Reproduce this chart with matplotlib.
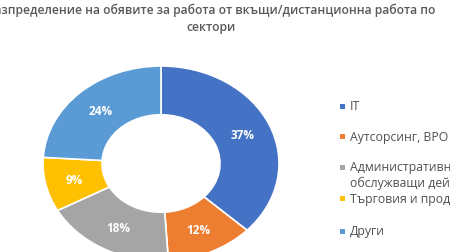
import matplotlib
matplotlib.use("Agg")
import matplotlib.pyplot as plt
from matplotlib.patches import Rectangle

plt.rcParams['font.family'] = ['Open Sans', 'DejaVu Sans']

title_line1 = "Разпределение на обявите за работа от вкъщи/дистанционна работа по"
title_line2 = "сектори"
categories = ["IT", "Аутсорсинг, BPO", "Административни и\nобслужващи дейности",
              "Търговия и продажби", "Други"]
values = [37, 12, 18, 9, 24]
colors = ["#4472C4", "#ED7D31", "#A5A5A5", "#FFC000", "#5B9BD5"]

W, H = 450, 253
fig = plt.figure(figsize=(W / 100, H / 100), dpi=100)
fig.patch.set_facecolor("white")

# donut axes (elliptical, cropped at the bottom)
left, top, right, bottom = 43, 67, 279, 262
ax = fig.add_axes([left / W, (H - bottom) / H, (right - left) / W, (bottom - top) / H])
wedges, texts, autotexts = ax.pie(
    values, colors=colors, startangle=90, counterclock=False,
    autopct=lambda p: f"{p:.0f}%", pctdistance=0.75,
    wedgeprops=dict(width=0.5, edgecolor="white", linewidth=1.2),
    textprops=dict(color="white", fontsize=8.5, fontweight="bold"))
ax.set_aspect("auto")
ax.set_xlim(-1, 1)
ax.set_ylim(-1, 1)
ax.axis("off")

# title
fig.text(211 / W, 1 - 10 / H, title_line1, ha="center", va="center",
         fontsize=8.75, fontweight="semibold", color="#595959")
fig.text(211 / W, 1 - 27 / H, title_line2, ha="center", va="center",
         fontsize=8.75, fontweight="semibold", color="#595959")

# legend (manual, Excel-like)
legend_y = [107, 137, 168, 199, 232]
for lab, col, y in zip(categories, colors, legend_y):
    fig.patches.append(Rectangle((340 / W, 1 - (y + 2.5) / H), 5 / W, 5 / H,
                                 transform=fig.transFigure, facecolor=col,
                                 edgecolor="none"))
    fig.text(350 / W, 1 - (y - 6.5) / H, lab, ha="left", va="top",
             fontsize=8.8, color="#505050", linespacing=1.2)

fig.savefig("out.png", dpi=100, facecolor="white")
